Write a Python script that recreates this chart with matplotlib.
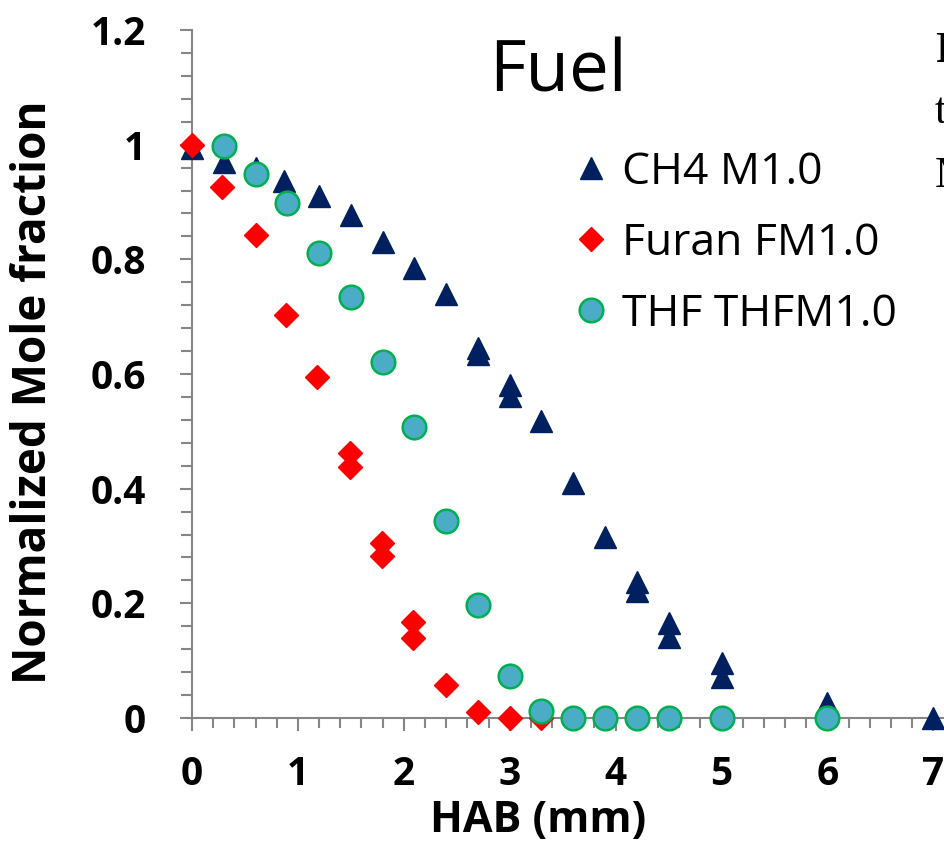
import matplotlib
matplotlib.use('Agg')
import matplotlib.pyplot as plt
from matplotlib.ticker import MultipleLocator

plt.rcParams['font.family'] = ['Open Sans', 'DejaVu Sans']

# Height above burner (mm) vs normalized mole fraction
ch4_x = [0, 0.3, 0.6, 0.87, 1.2, 1.5, 1.8, 2.1, 2.4, 2.7, 2.7, 3.0, 3.0, 3.3,
         3.6, 3.9, 4.2, 4.2, 4.5, 4.5, 5.0, 5.0, 6.0, 7.0]
ch4_y = [0.995, 0.97, 0.96, 0.936, 0.91, 0.878, 0.831, 0.785, 0.739, 0.645, 0.635,
         0.58, 0.562, 0.518, 0.41, 0.315, 0.237, 0.222, 0.165, 0.141, 0.096, 0.072,
         0.026, 0.0]

furan_x = [0, 0.28, 0.6, 0.89, 1.18, 1.49, 1.49, 1.79, 1.79, 2.09, 2.09, 2.4, 2.7, 3.0, 3.3]
furan_y = [1.0, 0.926, 0.843, 0.703, 0.595, 0.463, 0.438, 0.305, 0.282, 0.167, 0.139,
           0.057, 0.011, 0.0, 0.0]

thf_x = [0.3, 0.6, 0.9, 1.2, 1.5, 1.8, 2.1, 2.4, 2.7, 3.0, 3.3, 3.6, 3.9, 4.2, 4.5, 5.0, 6.0]
thf_y = [0.997, 0.948, 0.898, 0.811, 0.734, 0.621, 0.508, 0.344, 0.197, 0.073, 0.012,
         0, 0, 0, 0, 0, 0]

labels = ['CH4 M1.0', 'Furan FM1.0', 'THF THFM1.0']

W, H = 945, 841
fig = plt.figure(figsize=(W / 100, H / 100), dpi=100)
# axis origin at pixel (192, 718); y=1.2 at pixel 30
ax = fig.add_axes([192 / W, (H - 718) / H, (W - 192) / W, (718 - 30) / H])

ax.plot(ch4_x, ch4_y, linestyle='none', marker='^', ms=16, color='#002060',
        label=labels[0], clip_on=False, zorder=3)
ax.plot(furan_x, furan_y, linestyle='none', marker='D', ms=12.5, color='#FF0000',
        label=labels[1], clip_on=False, zorder=4)
ax.plot(thf_x, thf_y, linestyle='none', marker='o', ms=17, markerfacecolor='#4BACC6',
        markeredgecolor='#00B050', markeredgewidth=1.8, label=labels[2],
        clip_on=False, zorder=5)

ax.set_xlim(0, (W - 192) / 105.9)
ax.set_ylim(0, 1.2)
ax.xaxis.set_minor_locator(MultipleLocator(0.2))
ax.yaxis.set_minor_locator(MultipleLocator(0.04))
ax.set_xticks([0, 1, 2, 3, 4, 5, 6, 7])
ax.set_xticklabels(['0', '1', '2', '3', '4', '5', '6', '7'])
ax.set_yticks([0, 0.2, 0.4, 0.6, 0.8, 1.0, 1.2])
ax.set_yticklabels(['0', '0.2', '0.4', '0.6', '0.8', '1', '1.2'])

for s in ['top', 'right']:
    ax.spines[s].set_visible(False)
for s in ['left', 'bottom']:
    ax.spines[s].set_color('#868686')
    ax.spines[s].set_linewidth(1.5)

ax.tick_params(axis='both', which='both', direction='out', color='#868686', width=1.5)
ax.tick_params(axis='x', which='major', length=9.5, pad=17, labelsize=28)
ax.tick_params(axis='x', which='minor', length=7.5)
ax.tick_params(axis='y', which='major', length=9, pad=24, labelsize=28)
ax.tick_params(axis='y', which='minor', length=8)
for lab in ax.get_xticklabels() + ax.get_yticklabels():
    lab.set_fontweight('bold')

ax.set_xlabel('HAB (mm)', fontsize=31, fontweight='bold')
ax.xaxis.set_label_coords((538 - 192) / (W - 192), (718 - 832) / (718 - 30))
ax.xaxis.label.set_va('baseline')
ax.set_ylabel('Normalized Mole fraction', fontsize=33, fontweight='bold')
ax.yaxis.set_label_coords((34 - 192) / (W - 192), (718 - 392) / (718 - 30))
ax.yaxis.label.set_va('center')

ax.text((558 - 192) / (W - 192), (718 - 92) / (718 - 30), 'Fuel', fontsize=51,
        ha='center', va='baseline', transform=ax.transAxes)

ax.legend(loc='upper left', bbox_to_anchor=((570 - 192) / (W - 192), (718 - 150) / (718 - 30)),
          frameon=False, fontsize=32, numpoints=1, handlelength=0.95,
          handletextpad=0.22, labelspacing=0.6, borderpad=0, borderaxespad=0)

# fragments of the neighbouring caption, cut by the right edge
fig.text(935 / W, 1 - 62 / H, 'F', fontsize=32, fontweight='bold',
         family=['Liberation Serif', 'DejaVu Serif'], va='baseline')
fig.text(935 / W, 1 - 123 / H, 't', fontsize=32,
         family=['Liberation Serif', 'DejaVu Serif'], va='baseline')
fig.text(935 / W, 1 - 187 / H, 'M', fontsize=32,
         family=['Liberation Serif', 'DejaVu Serif'], va='baseline')

fig.savefig('out.png', dpi=100)
